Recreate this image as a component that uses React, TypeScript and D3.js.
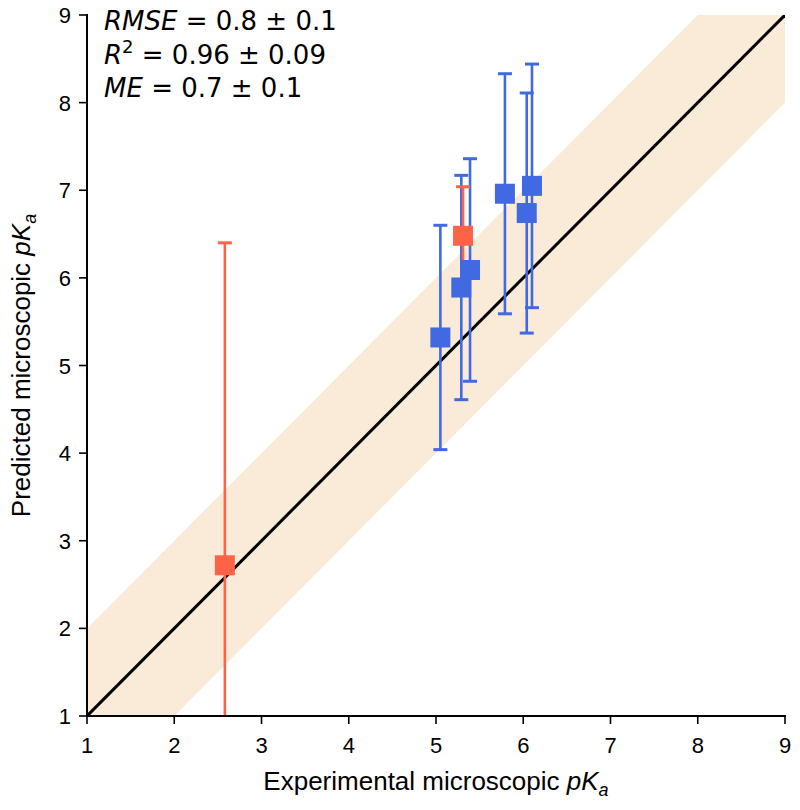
import React from "react";
import * as d3 from "d3";

const blueX = [5.05, 5.29, 5.39, 5.79, 6.04, 6.10];
const blueY = [5.32, 5.89, 6.09, 6.96, 6.74, 7.05];
const blueErr = [1.28, 1.28, 1.27, 1.37, 1.37, 1.39];

const redX = [2.58, 5.31];
const redY = [2.72, 6.48];
const redErr = [3.68, 0.56];

const ticks = [1, 2, 3, 4, 5, 6, 7, 8, 9];
const bandWidth = 1;

const W = 800, H = 810;
const left = 87, right = 785, top = 15, bottom = 716;

export default function App() {
  const x = d3.scaleLinear().domain([1, 9]).range([left, right]);
  const y = d3.scaleLinear().domain([1, 9]).range([bottom, top]);
  const line = d3.line<[number, number]>().x(d => x(d[0])).y(d => y(d[1]));
  const band: [number, number][] = [[0, 0 - bandWidth], [10, 10 - bandWidth], [10, 10 + bandWidth], [0, bandWidth]];
  const blue = "#4169E1", red = "#FF6347";
  const sq = 20, cap = 14;

  const errBars = (xs: number[], ys: number[], es: number[], color: string, key: string) =>
    xs.map((xv, i) => {
      const y0 = y(ys[i] - es[i]), y1 = y(ys[i] + es[i]);
      return (
        <g key={key + i} stroke={color} strokeWidth={2.6}>
          <line x1={x(xv)} x2={x(xv)} y1={y0} y2={y1} />
          <line x1={x(xv) - cap / 2} x2={x(xv) + cap / 2} y1={y0} y2={y0} strokeWidth={3} />
          <line x1={x(xv) - cap / 2} x2={x(xv) + cap / 2} y1={y1} y2={y1} strokeWidth={3} />
        </g>
      );
    });
  const markers = (xs: number[], ys: number[], color: string, key: string) =>
    xs.map((xv, i) => (
      <rect key={key + i} x={x(xv) - sq / 2} y={y(ys[i]) - sq / 2} width={sq} height={sq} fill={color} />
    ));

  const mathFont = "DejaVu Sans";
  const sans = "Liberation Sans, Arial, sans-serif";
  return (
    <div style={{ position: "absolute", left: 0, top: 0 }}>
      <svg width={W} height={H} style={{ display: "block", background: "#fff" }}>
        <defs>
          <clipPath id="plotclip">
            <rect x={left} y={top} width={right - left} height={bottom - top} />
          </clipPath>
        </defs>
        <g clipPath="url(#plotclip)">
          <path d={line(band) + "Z"} fill="#F9EBD7" />
          <path d={line([[1, 1], [9, 9]]) || ""} stroke="#000" strokeWidth={3} fill="none" />
          {errBars(blueX, blueY, blueErr, blue, "be")}
          {errBars(redX, redY, redErr, red, "re")}
          {markers(redX, redY, red, "rm")}
          {markers(blueX, blueY, blue, "bm")}
        </g>
        {/* axes */}
        <line x1={left} x2={left} y1={top - 1} y2={bottom + 1} stroke="#000" strokeWidth={2} />
        <line x1={left - 1} x2={right + 1} y1={bottom} y2={bottom} stroke="#000" strokeWidth={2} />
        {ticks.map(t => (
          <g key={"xt" + t}>
            <line x1={x(t)} x2={x(t)} y1={bottom} y2={bottom + 8} stroke="#000" strokeWidth={1.6} />
            <text x={x(t)} y={bottom + 37} textAnchor="middle" fontFamily={sans} fontSize={22}>{t}</text>
          </g>
        ))}
        {ticks.map(t => (
          <g key={"yt" + t}>
            <line x1={left - 8} x2={left} y1={y(t)} y2={y(t)} stroke="#000" strokeWidth={1.6} />
            <text x={left - 16} y={y(t) + 8} textAnchor="end" fontFamily={sans} fontSize={22}>{t}</text>
          </g>
        ))}
        <text x={(left + right) / 2} y={790} textAnchor="middle" fontFamily={sans} fontSize={26}>
          Experimental microscopic <tspan fontStyle="italic">pK</tspan><tspan fontStyle="italic" fontSize={18} dy={6}>a</tspan>
        </text>
        <text transform={`translate(30, ${(top + bottom) / 2}) rotate(-90)`} textAnchor="middle" fontFamily={sans} fontSize={26}>
          Predicted microscopic <tspan fontStyle="italic">pK</tspan><tspan fontStyle="italic" fontSize={18} dy={6}>a</tspan>
        </text>
        {/* stats */}
        <g fontFamily={mathFont} fontSize={26}>
          <text x={104} y={30}>
            <tspan fontStyle="italic">RMSE</tspan> = 0.8 ± 0.1
          </text>
          <text x={104} y={64}>
            <tspan fontStyle="italic">R</tspan><tspan fontSize={18} dy={-11}>2</tspan><tspan dy={11}> = 0.96 ± 0.09</tspan>
          </text>
          <text x={104} y={97}>
            <tspan fontStyle="italic">ME</tspan> = 0.7 ± 0.1
          </text>
        </g>
      </svg>
    </div>
  );
}
